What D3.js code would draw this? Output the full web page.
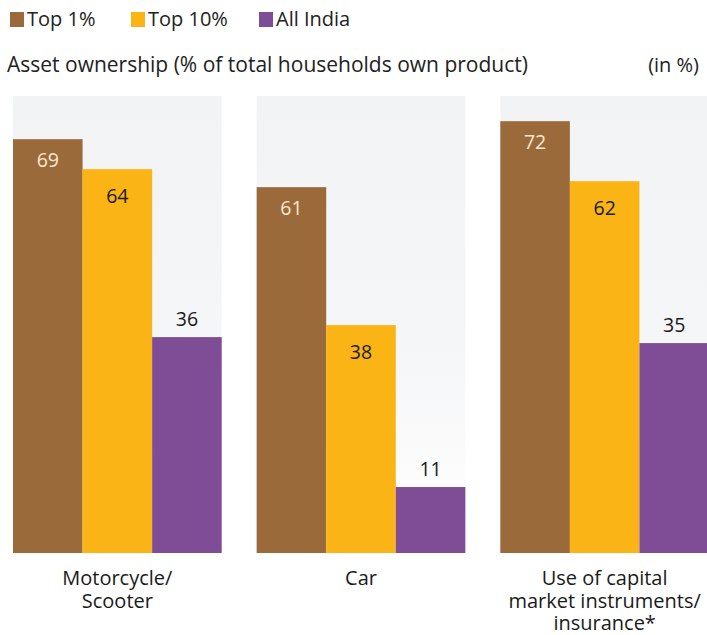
<!DOCTYPE html>
<html>
<head>
<meta charset="utf-8">
<script src="https://cdn.jsdelivr.net/npm/d3@7"></script>
<style>
  html, body { margin: 0; padding: 0; background: #ffffff; }
  svg { display: block; font-family: "Open Sans", "Noto Sans", sans-serif; }
</style>
</head>
<body>
<svg id="chart" width="707" height="635"></svg>
<script>
// Asset ownership by wealth group
const categories = [["Motorcycle/", "Scooter"], ["Car"], ["Use of capital", "market instruments/", "insurance*"]];
const seriesNames = ["Top 1%", "Top 10%", "All India"];
const top1 = [69, 61, 72];
const top10 = [64, 38, 62];
const allIndia = [36, 11, 35];
const colors = ["#9b6a3b", "#fbb415", "#7e4d95"];

const series = [top1, top10, allIndia];
const svg = d3.select("#chart");

// background gradient for each panel
const defs = svg.append("defs");
const grad = defs.append("linearGradient").attr("id", "panelBg")
  .attr("x1", 0).attr("y1", 0).attr("x2", 0).attr("y2", 1);
grad.append("stop").attr("offset", "0%").attr("stop-color", "#f2f3f5");
grad.append("stop").attr("offset", "55%").attr("stop-color", "#f5f6f7");
grad.append("stop").attr("offset", "100%").attr("stop-color", "#ffffff");

// legend
const legendX = [10, 131, 259];
const legend = svg.append("g");
seriesNames.forEach((name, i) => {
  const g = legend.append("g").attr("transform", `translate(${legendX[i]},0)`);
  g.append("rect").attr("x", 0).attr("y", 12).attr("width", 14).attr("height", 15)
    .attr("fill", colors[i]);
  g.append("text").attr("x", 17).attr("y", 26).attr("font-size", 20)
    .attr("fill", "#222").text(name);
});

// subtitle and unit
svg.append("text").attr("x", 7).attr("y", 72).attr("font-size", 21)
  .attr("fill", "#222").text("Asset ownership (% of total households own product)");
svg.append("text").attr("x", 699).attr("y", 72).attr("font-size", 20)
  .attr("text-anchor", "end").attr("fill", "#222").text("(in %)");

// panels
const panelX = d3.scaleBand().domain(d3.range(categories.length))
  .range([13, 709]).paddingInner(35 / 244).paddingOuter(0);
const plotTop = 96, plotBottom = 553;
const y = d3.scaleLinear().domain([0, 76.2]).range([plotBottom, plotTop]);

categories.forEach((cat, ci) => {
  const px = panelX(ci);
  const pw = panelX.bandwidth();
  const g = svg.append("g").attr("transform", `translate(${px},0)`);
  g.append("rect").attr("x", 0).attr("y", plotTop).attr("width", pw).attr("height", plotBottom - plotTop)
    .attr("fill", "url(#panelBg)");

  const xb = d3.scaleBand().domain(d3.range(series.length)).range([0, pw]);
  series.forEach((vals, si) => {
    const v = vals[ci];
    g.append("rect")
      .attr("x", xb(si)).attr("y", y(v))
      .attr("width", xb.bandwidth()).attr("height", y(0) - y(v))
      .attr("fill", colors[si]);
    const cx = xb(si) + xb.bandwidth() / 2;
    let ty, fill;
    if (si === 0) { ty = y(v) + 28; fill = "#fbe6cc"; }
    else if (si === 1) { ty = y(v) + 34; fill = "#1a1a1a"; }
    else { ty = y(v) - 11; fill = "#1a1a1a"; }
    g.append("text").attr("x", cx).attr("y", ty).attr("text-anchor", "middle")
      .attr("font-size", 19.5).attr("fill", fill).text(v);
  });

  const lab = g.append("text").attr("text-anchor", "middle").attr("font-size", 20)
    .attr("fill", "#1a1a1a");
  cat.forEach((line, li) => {
    lab.append("tspan").attr("x", pw / 2).attr("y", 585 + li * 22.5).text(line);
  });
});
</script>
</body>
</html>
